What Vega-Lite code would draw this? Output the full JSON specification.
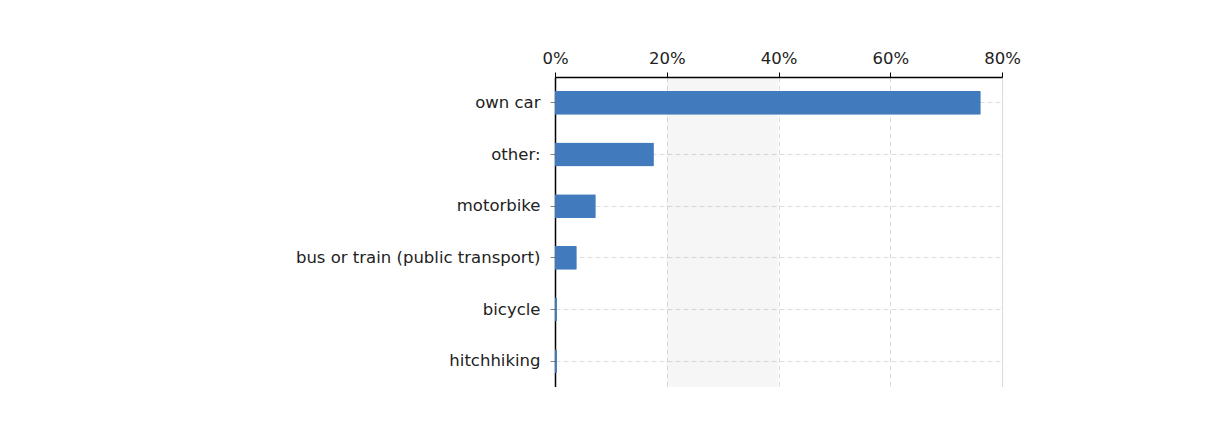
{
  "$schema": "https://vega.github.io/schema/vega-lite/v6.json",
  "autosize": "none",
  "width": 447,
  "height": 310,
  "padding": {"left": 555, "top": 77, "right": 60, "bottom": 0},
  "background": "white",
  "config": {
    "font": "DejaVu Sans",
    "view": {"stroke": "#d6d6d6", "strokeWidth": 1}
  },
  "layer": [
    {
      "data": {"values": [{"from": 20, "to": 40}]},
      "mark": {"type": "rect", "fill": "#000000", "fillOpacity": 0.035},
      "encoding": {
        "x": {"field": "from", "type": "quantitative", "scale": {"domain": [0, 80]}},
        "x2": {"field": "to"}
      }
    },
    {
      "data": {
        "values": [
          {"mode": "own car", "pct": 76.2},
          {"mode": "other:", "pct": 17.7},
          {"mode": "motorbike", "pct": 7.3},
          {"mode": "bus or train (public transport)", "pct": 3.9},
          {"mode": "bicycle", "pct": 0.35},
          {"mode": "hitchhiking", "pct": 0.35}
        ]
      },
      "mark": {"type": "bar", "color": "#417bbe", "cornerRadiusEnd": 1},
      "encoding": {
        "y": {
          "field": "mode",
          "type": "nominal",
          "sort": null,
          "scale": {"paddingInner": 0.54, "paddingOuter": 0.27},
          "axis": {
            "title": null,
            "domainColor": "#000000",
            "domainWidth": 1.5,
            "tickColor": "#888888",
            "tickSize": 5,
            "labelFontSize": 16.5,
            "labelColor": "#222222",
            "labelPadding": 10,
            "labelLimit": 400,
            "grid": true,
            "gridColor": "#dddddd",
            "gridDash": [5, 3]
          }
        },
        "x": {
          "field": "pct",
          "type": "quantitative",
          "scale": {"domain": [0, 80]},
          "axis": {
            "orient": "top",
            "title": null,
            "values": [0, 20, 40, 60, 80],
            "labelExpr": "datum.value + '%'",
            "domainColor": "#000000",
            "domainWidth": 1.5,
            "tickColor": "#000000",
            "tickSize": 5,
            "labelFontSize": 16.5,
            "labelColor": "#222222",
            "labelPadding": 6,
            "labelFlush": false,
            "grid": true,
            "gridColor": "#dddddd",
            "gridDash": [5, 3]
          }
        }
      }
    },
    {
      "mark": {"type": "rule", "color": "#000000", "strokeWidth": 1.5},
      "encoding": {"x": {"datum": 0, "type": "quantitative"}}
    }
  ]
}
